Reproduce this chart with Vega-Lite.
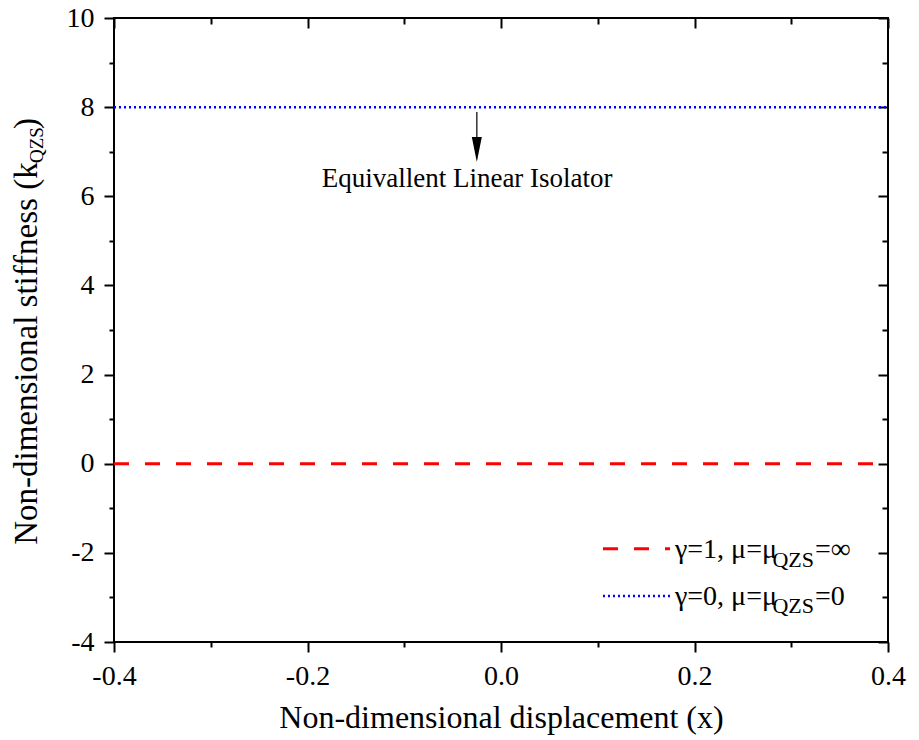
{
  "$schema": "https://vega.github.io/schema/vega-lite/v6.json",
  "width": 774,
  "height": 624,
  "autosize": {"type": "none"},
  "padding": {"left": 114, "top": 18, "right": 31, "bottom": 98},
  "background": "white",
  "data": {"values": [{}]},
  "config": {
    "font": "Liberation Serif",
    "view": {"stroke": "black", "strokeWidth": 2},
    "axis": {
      "domain": false,
      "grid": false,
      "labelFlush": false,
      "labelOverlap": false,
      "labelFont": "Liberation Serif",
      "labelFontSize": 28,
      "labelColor": "black",
      "tickColor": "black",
      "tickWidth": 2,
      "titleFont": "Liberation Serif",
      "titleFontSize": 32,
      "titleFontWeight": "normal",
      "titleColor": "black"
    },
    "text": {"font": "Liberation Serif", "color": "black"}
  },
  "datasets": {
    "curves": [
      {"series": "gamma1", "x": -0.4, "k": 0},
      {"series": "gamma1", "x": 0.4, "k": 0},
      {"series": "gamma0", "x": -0.4, "k": 8},
      {"series": "gamma0", "x": 0.4, "k": 8}
    ]
  },
  "resolve": {"axis": {"x": "independent", "y": "independent"}},
  "layer": [
    {
      "data": {"name": "curves"},
      "transform": [{"filter": "datum.series === 'gamma1'"}],
      "mark": {"type": "line", "color": "#ff0000", "strokeWidth": 3, "strokeDash": [15, 16]},
      "encoding": {
        "x": {
          "field": "x", "type": "quantitative",
          "scale": {"domain": [-0.4, 0.4], "nice": false, "zero": false},
          "axis": {
            "orient": "bottom", "values": [-0.4, -0.2, 0, 0.2, 0.4],
            "labelExpr": "replace(format(datum.value, '.1f'), '\u2212', '-')",
            "tickSize": 10, "labelPadding": 10,
            "title": "Non-dimensional displacement (x)", "titlePadding": 12
          }
        },
        "y": {
          "field": "k", "type": "quantitative",
          "scale": {"domain": [-4, 10], "nice": false, "zero": false},
          "axis": {
            "orient": "left", "values": [-4, -2, 0, 2, 4, 6, 8, 10],
            "labelExpr": "replace(format(datum.value, 'd'), '\u2212', '-')",
            "tickSize": 10, "labelPadding": 10, "title": null
          }
        }
      }
    },
    {
      "data": {"name": "curves"},
      "transform": [{"filter": "datum.series === 'gamma0'"}],
      "mark": {"type": "line", "color": "#0000ff", "strokeWidth": 2.5, "strokeDash": [2, 3]},
      "encoding": {
        "x": {
          "field": "x", "type": "quantitative",
          "axis": {"orient": "bottom", "values": [-0.3, -0.1, 0.1, 0.3], "labels": false, "tickSize": 5, "title": null}
        },
        "y": {
          "field": "k", "type": "quantitative",
          "axis": {"orient": "left", "values": [-3, -1, 1, 3, 5, 7, 9], "labels": false, "tickSize": 5, "title": null}
        }
      }
    },
    {
      "mark": {"type": "rule", "color": "#333333", "strokeWidth": 1.5},
      "encoding": {
        "x": {
          "datum": -0.025, "type": "quantitative",
          "axis": {"orient": "top", "values": [-0.4, -0.2, 0, 0.2, 0.4], "labels": false, "tickSize": -10, "title": null}
        },
        "y": {
          "datum": 7.89, "type": "quantitative",
          "axis": {"orient": "right", "values": [-4, -2, 0, 2, 4, 6, 8, 10], "labels": false, "tickSize": -10, "title": null}
        },
        "y2": {"datum": 7.0}
      }
    },
    {
      "mark": {"type": "point", "shape": "M-0.4,-1L0.4,-1L0,1Z", "size": 625, "filled": true, "color": "black", "opacity": 1},
      "encoding": {
        "x": {
          "datum": -0.025, "type": "quantitative",
          "axis": {"orient": "top", "values": [-0.3, -0.1, 0.1, 0.3], "labels": false, "tickSize": -6, "title": null}
        },
        "y": {
          "datum": 7.05, "type": "quantitative",
          "axis": {"orient": "right", "values": [-3, -1, 1, 3, 5, 7, 9], "labels": false, "tickSize": -6, "title": null}
        }
      }
    },
    {
      "mark": {"type": "text", "text": "Equivallent Linear Isolator", "font": "Liberation Serif", "fontSize": 27, "align": "center", "baseline": "alphabetic"},
      "encoding": {
        "x": {"datum": -0.035, "type": "quantitative", "axis": null},
        "y": {"datum": 6.21, "type": "quantitative", "axis": null}
      }
    },
    {
      "mark": {"type": "rule", "color": "#ff0000", "strokeWidth": 3, "strokeDash": [15, 16]},
      "encoding": {
        "x": {"datum": 0.1054, "type": "quantitative", "axis": null},
        "x2": {"datum": 0.1747},
        "y": {"datum": -1.91, "type": "quantitative", "axis": null}
      }
    },
    {
      "mark": {"type": "rule", "color": "#0000ff", "strokeWidth": 2.5, "strokeDash": [2, 3]},
      "encoding": {
        "x": {"datum": 0.1054, "type": "quantitative", "axis": null},
        "x2": {"datum": 0.1747},
        "y": {"datum": -2.97, "type": "quantitative", "axis": null}
      }
    },
    {
      "mark": {"type": "text", "text": "γ=1, μ=μ", "font": "Liberation Serif", "fontSize": 28, "align": "left", "baseline": "alphabetic"},
      "encoding": {
        "x": {"datum": 0.1798, "type": "quantitative", "axis": null},
        "y": {"datum": -2.116, "type": "quantitative", "axis": null}
      }
    },
    {
      "mark": {"type": "text", "text": "QZS", "font": "Liberation Serif", "fontSize": 22, "align": "left", "baseline": "alphabetic"},
      "encoding": {
        "x": {"datum": 0.2805, "type": "quantitative", "axis": null},
        "y": {"datum": -2.318, "type": "quantitative", "axis": null}
      }
    },
    {
      "mark": {"type": "text", "text": "=∞", "font": "Liberation Serif", "fontSize": 28, "align": "left", "baseline": "alphabetic"},
      "encoding": {
        "x": {"datum": 0.3245, "type": "quantitative", "axis": null},
        "y": {"datum": -2.116, "type": "quantitative", "axis": null}
      }
    },
    {
      "mark": {"type": "text", "text": "γ=0, μ=μ", "font": "Liberation Serif", "fontSize": 28, "align": "left", "baseline": "alphabetic"},
      "encoding": {
        "x": {"datum": 0.1798, "type": "quantitative", "axis": null},
        "y": {"datum": -3.17, "type": "quantitative", "axis": null}
      }
    },
    {
      "mark": {"type": "text", "text": "QZS", "font": "Liberation Serif", "fontSize": 22, "align": "left", "baseline": "alphabetic"},
      "encoding": {
        "x": {"datum": 0.2805, "type": "quantitative", "axis": null},
        "y": {"datum": -3.35, "type": "quantitative", "axis": null}
      }
    },
    {
      "mark": {"type": "text", "text": "=0", "font": "Liberation Serif", "fontSize": 28, "align": "left", "baseline": "alphabetic"},
      "encoding": {
        "x": {"datum": 0.3245, "type": "quantitative", "axis": null},
        "y": {"datum": -3.17, "type": "quantitative", "axis": null}
      }
    },
    {
      "mark": {"type": "text", "text": "Non-dimensional stiffness (k", "font": "Liberation Serif", "fontSize": 33, "angle": 270, "align": "left", "baseline": "alphabetic"},
      "encoding": {
        "x": {"datum": -0.4796, "type": "quantitative", "axis": null},
        "y": {"datum": -1.82, "type": "quantitative", "axis": null}
      }
    },
    {
      "mark": {"type": "text", "text": "QZS", "font": "Liberation Serif", "fontSize": 19, "angle": 270, "align": "left", "baseline": "alphabetic"},
      "encoding": {
        "x": {"datum": -0.4734, "type": "quantitative", "axis": null},
        "y": {"datum": 6.747, "type": "quantitative", "axis": null}
      }
    },
    {
      "mark": {"type": "text", "text": ")", "font": "Liberation Serif", "fontSize": 33, "angle": 270, "align": "left", "baseline": "alphabetic"},
      "encoding": {
        "x": {"datum": -0.4796, "type": "quantitative", "axis": null},
        "y": {"datum": 7.51, "type": "quantitative", "axis": null}
      }
    }
  ]
}
